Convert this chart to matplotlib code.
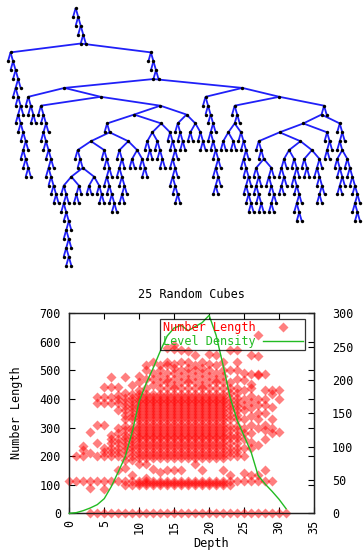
import matplotlib
matplotlib.use('Agg')
import matplotlib.pyplot as plt
from matplotlib.lines import Line2D
from matplotlib.collections import LineCollection

# ---------------- data ----------------
depths = list(range(32))
level_density = [0, 1, 4, 8, 13, 22, 40, 62, 85, 122, 168, 195, 218, 243, 266, 278,
                 282, 274, 280, 286, 297, 267, 222, 174, 140, 116, 92, 57, 44, 33, 21, 7]

band = [195, 205, 215, 228, 238, 248, 262, 272, 282, 292, 302, 312,
        328, 338, 348, 358, 368, 378, 388, 398, 408, 418]
band_part = [200, 215, 230, 245, 262, 275, 290, 305, 330, 345, 360, 375, 390, 405, 420]
low_band = [0, 100, 107, 113]

number_length = [
    [113],
    [113, 200],
    [113, 200, 220, 235],
    [0, 88, 113, 210, 285],
    [0, 113, 200, 245, 308, 385, 407],
    [0, 85, 113, 200, 214, 230, 308, 385, 407, 442],
    [0, 113, 200, 215, 230, 245, 260, 275, 385, 407, 442, 477],
    [0, 113, 150, 200, 215, 230, 245, 260, 280, 300, 360, 385, 400, 415, 442],
    [0, 100, 113, 160, 185, 205, 220, 235, 250, 262, 275, 290, 305, 330, 345, 360, 375, 390, 405, 420, 476],
    [0, 100, 113, 133, 185, 200, 215, 228, 240, 252, 265, 278, 290, 302, 330, 342, 355, 368, 380, 392, 405, 418, 448],
    band + low_band + [174, 430, 460, 480],
    band + low_band + [125, 174, 440, 470, 500, 518],
    band + low_band + [156, 450, 470, 490, 530],
    band + low_band + [144, 440, 460, 480, 500, 520],
    band + low_band + [150, 440, 460, 470, 490, 520, 530, 580],
    band + low_band + [150, 440, 450, 470, 490, 510, 524, 576, 590],
    band + low_band + [150, 440, 460, 480, 500, 530, 573],
    band + low_band + [440, 460, 470, 490, 510, 530, 568],
    band + low_band + [174, 440, 460, 480, 500, 520, 553],
    band + low_band + [150, 440, 450, 470, 490, 510, 530],
    band + low_band + [440, 460, 480, 500, 524, 559],
    band + low_band + [440, 460, 470, 490, 520, 553],
    band + low_band + [150, 440, 460, 480, 500, 530],
    band_part + [0, 100, 113, 133, 440, 460, 500, 570],
    band_part + [0, 113, 440, 470, 500, 530, 570],
    [0, 113, 140, 200, 230, 260, 280, 300, 330, 360, 380, 400, 430, 466, 490],
    [0, 113, 134, 230, 250, 280, 310, 340, 370, 390, 410, 440, 454, 489, 553],
    [0, 113, 134, 240, 300, 330, 350, 380, 400, 483, 489, 549, 623],
    [0, 113, 151, 260, 290, 310, 350, 380, 400, 430, 489],
    [0, 113, 280, 300, 330, 373, 419, 430],
    [0, 285, 401, 430],
    [0],
]

x_ticks = [0, 5, 10, 15, 20, 25, 30, 35]
y1_ticks = [0, 100, 200, 300, 400, 500, 600, 700]
y2_ticks = [0, 50, 100, 150, 200, 250, 300]


# ---------------- tree structure ('o' leaf, '(' a b ')' inner node) ----------------
def cat(pattern, end):
    s = end
    for c in reversed(pattern):
        s = "(o" + s + ")" if c == "R" else "(" + s + "o)"
    return s

BIG1 = cat("RRRLRRLRRRLRR", "(oo)")
P = cat("RR", "(oo)")
Q1 = cat("RRLRRRLRRR", "(oo)")
DEEP = cat("RLRRLRLR", "(oo)")
SMALL1 = cat("L", "(oo)")
W19a = "(" + DEEP + SMALL1 + ")"
W19b = "((oo)(o(oo)))"
W18 = "(" + W19a + W19b + ")"
W17 = "(o" + W18 + ")"
U1 = "(o" + W17 + ")"
U2 = cat("RRLRRR", "(oo)")
U = "(" + U1 + U2 + ")"
V1 = cat("RLRRL", "(oo)")
V2 = "((oo)(o(oo)))"
V = "(" + V1 + V2 + ")"
T = "(" + U + V + ")"
Q2a1 = "(o" + T + ")"
X1 = "((o(oo))(o(o(oo))))"
X2 = cat("RRLRLRR", "(oo)")
Q2a2 = "(" + X1 + X2 + ")"
Q2a = "(" + Q2a1 + Q2a2 + ")"
Q2b = "((o(o(oo)))((oo)(o(oo))))"
Q2 = "(" + Q2a + Q2b + ")"
Q = "(" + Q1 + Q2 + ")"
BIG2A = "(" + P + Q + ")"
Lc = cat("RRRLRRRLRL", "(oo)")
M14a = "((oo)(oo))"
M14b = cat("RRLRRLRR", "(oo)")
M = "(o((" + M14a + M14b + ")o))"
A18 = cat("RLRR", "(oo)")
B18 = cat("LRRL", "(oo)")
O1a = "(o(o(" + A18 + B18 + ")))"
C17a = cat("LRL", "(oo)")
C17b = cat("RLRRLR", "(oo)")
D17a = cat("R", "(oo)")
D17b = cat("LRRL", "(oo)")
O1b = "((" + C17a + C17b + ")(" + D17a + D17b + "))"
O1 = "(" + O1a + O1b + ")"
O2 = cat("RL", "(oo)")
O = "(" + O1 + O2 + ")"
Za = cat("RRL", "(oo)")
Zb = cat("RRRRLR", "(oo)")
Pp = "(o((o(" + Za + Zb + "))o))"
N1 = "(" + O + Pp + ")"
N = "(" + N1 + "o)"
Rr = "(" + M + N + ")"
BIG2B = "(" + Lc + Rr + ")"
BIG2 = "(o(o((" + BIG2A + BIG2B + ")o)))"
TREE = "(o(o(o((" + BIG1 + BIG2 + ")o))))"


def parse(s):
    pos = [0]

    def node(depth):
        c = s[pos[0]]
        pos[0] += 1
        if c == 'o':
            return {'d': depth, 'kids': []}
        kids = []
        while s[pos[0]] != ')':
            kids.append(node(depth + 1))
        pos[0] += 1
        return {'d': depth, 'kids': kids}
    return node(0)


SEP = 1.0


def layout(n):
    if not n['kids']:
        return [0.0], [0.0], [(n, 0.0)]
    lcA, rcA, itA = layout(n['kids'][0])
    lcB, rcB, itB = layout(n['kids'][1])
    k = min(len(rcA), len(lcB))
    gap = max(rcA[i] - lcB[i] for i in range(k)) + SEP
    h = gap / 2.0
    lc, rc = [0.0], [0.0]
    for i in range(max(len(lcA), len(lcB))):
        ls, rs = [], []
        if i < len(lcA):
            ls.append(lcA[i] - h); rs.append(rcA[i] - h)
        if i < len(lcB):
            ls.append(lcB[i] + h); rs.append(rcB[i] + h)
        lc.append(min(ls)); rc.append(max(rs))
    items = [(n, 0.0)] + [(m, x - h) for m, x in itA] + [(m, x + h) for m, x in itB]
    return lc, rc, items


root = parse(TREE)
_, _, items = layout(root)
for m, x in items:
    m['x'] = x
xs_t = [x for _, x in items]
xmin, xmax = min(xs_t), max(xs_t)

X0, X1p = 8.0, 360.0
Y0, DY = 8.0, 8.88


def px(n):
    return (X0 + (n['x'] - xmin) / (xmax - xmin) * (X1p - X0), Y0 + n['d'] * DY)


segs, nodes_px = [], []
stack = [root]
while stack:
    n = stack.pop()
    p = px(n)
    nodes_px.append(p)
    for c in n['kids']:
        segs.append([p, px(c)])
        stack.append(c)

# ---------------- figure ----------------
W, H = 363, 552
fig = plt.figure(figsize=(W / 100, H / 100), dpi=100, facecolor='white')

axt = fig.add_axes([0, 0, 1, 1], zorder=0)
axt.set_xlim(0, W)
axt.set_ylim(H, 0)
axt.axis('off')
axt.add_collection(LineCollection(segs, colors='#2020f8', linewidths=1.3, zorder=1))
axt.scatter([p[0] for p in nodes_px], [p[1] for p in nodes_px], s=6, c='black',
            marker='o', linewidths=0, zorder=2)

FONT = 'DejaVu Sans Mono'
FS = 8.5

L_, R_, T_, B_ = 69.3, 314.0, 313.3, 513.3
ax = fig.add_axes([L_ / W, 1 - B_ / H, (R_ - L_) / W, (B_ - T_) / H], zorder=2)
ax.patch.set_alpha(0)
ax.set_xlim(0, 35)
ax.set_ylim(0, 700)
ax2 = ax.twinx()
ax2.set_ylim(0, 300)

sx, sy = [], []
for d, vals in zip(depths, number_length):
    for v in vals:
        sx.append(d)
        sy.append(v)
ax.scatter(sx, sy, marker='D', s=26, c='red', alpha=0.5, linewidths=0, clip_on=False, zorder=3)
ax2.plot(depths, level_density, color='#22bb22', lw=1.0, clip_on=False, zorder=4)

for a in (ax, ax2):
    for sp in a.spines.values():
        sp.set_linewidth(0.9)
        sp.set_color('#222222')

ax.set_xticks(x_ticks)
ax.set_xticklabels([str(t) for t in x_ticks], rotation=90, fontfamily=FONT, fontsize=FS)
ax.set_yticks(y1_ticks)
ax.set_yticklabels([str(t) for t in y1_ticks], fontfamily=FONT, fontsize=FS)
ax.tick_params(axis='x', direction='in', length=4, width=0.8, top=True, pad=5)
ax.tick_params(axis='y', direction='in', length=4, width=0.8, right=True, pad=6)
ax2.set_yticks(y2_ticks)
ax2.set_yticklabels([str(t) for t in y2_ticks], fontfamily=FONT, fontsize=FS)
ax2.tick_params(axis='y', direction='in', length=4, width=0.8, pad=13)

handles = [Line2D([], [], ls='none', marker='D', ms=5.0, color='red', alpha=0.5, mec='none'),
           Line2D([], [], color='#22bb22', lw=1.0)]
leg = ax2.legend(handles, ['Number Length', 'Level Density'], loc='upper right',
                 bbox_to_anchor=((305 - L_) / (R_ - L_), (B_ - 319) / (B_ - T_)),
                 markerfirst=False, fancybox=False, edgecolor='black', facecolor='none',
                 prop={'family': FONT, 'size': FS}, handlelength=3.4, borderpad=0.2,
                 labelspacing=0.05, handletextpad=0.6, borderaxespad=0)
leg.get_frame().set_linewidth(0.9)
leg.get_texts()[0].set_color('red')
leg.get_texts()[1].set_color('#22bb22')

fig.text(191.5 / W, 1 - 295 / H, '25 Random Cubes', ha='center', va='center',
         fontfamily=FONT, fontsize=FS)
fig.text(211 / W, 1 - 543 / H, 'Depth', ha='center', va='center',
         fontfamily=FONT, fontsize=FS)
fig.text(17 / W, 1 - 413 / H, 'Number Length', ha='center', va='center', rotation=90,
         fontfamily=FONT, fontsize=FS)

fig.savefig('out.png', dpi=100, facecolor='white')
